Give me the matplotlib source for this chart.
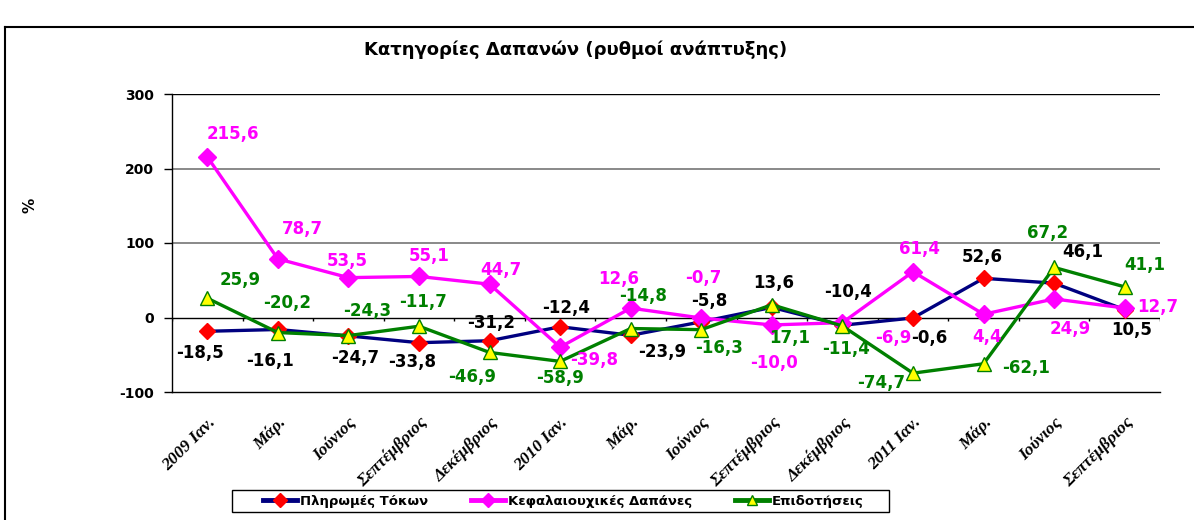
import numpy as np
import matplotlib
matplotlib.use("Agg")
import matplotlib.pyplot as plt
from matplotlib.lines import Line2D
from matplotlib.patches import Rectangle

# categories (quarters 2009-2011)
months = ["2009 Ιαν.", "Μάρ.", "Ιούνιος", "Σεπτέμβριος", "Δεκέμβριος",
          "2010 Ιαν.", "Μάρ.", "Ιούνιος", "Σεπτέμβριος", "Δεκέμβριος",
          "2011 Ιαν.", "Μάρ.", "Ιούνιος", "Σεπτέμβριος"]

tokoi = [-18.5, -16.1, -24.7, -33.8, -31.2, -12.4, -23.9, -5.8, 13.6, -10.4, -0.6, 52.6, 46.1, 10.5]
kefal = [215.6, 78.7, 53.5, 55.1, 44.7, -39.8, 12.6, -0.7, -10.0, -6.9, 61.4, 4.4, 24.9, 12.7]
epidot = [25.9, -20.2, -24.3, -11.7, -46.9, -58.9, -14.8, -16.3, 17.1, -11.4, -74.7, -62.1, 67.2, 41.1]

# label offsets in pixels (dx right, dy down) as placed on the original chart
off_tokoi = [(-7, 22), (-8, 32), (7, 22), (-7, 19), (2, -18), (6, -19), (31, 17),
             (8, -21), (2, -24), (6, -33), (16, 20), (-1, -21), (29, -31), (7, 20)]
off_kefal = [(26, -23), (25, -30), (-1, -17), (10, -20), (11, -14), (34, 13), (-12, -29),
             (2, -40), (2, 38), (51, 15), (7, -23), (3, 23), (16, 30), (33, -1)]
off_epidot = [(33, -18), (9, -30), (19, -25), (4, -24), (-17, 25), (0, 17), (12, -33),
              (18, 18), (18, 33), (4, 23), (-32, 10), (42, 4), (-7, -34), (20, -22)]

W, H = 1194, 520
fig = plt.figure(figsize=(W / 100, H / 100), dpi=100)
ax = fig.add_axes([172 / W, 1 - 392 / H, (1160 - 172) / W, (392 - 94) / H])

x = np.arange(len(months))

ax.plot(x, tokoi, color="#000080", lw=2.4, marker="D", ms=8,
        mfc="#FF0000", mec="#FF0000", label="Πληρωμές Τόκων", zorder=3)
ax.plot(x, kefal, color="#FF00FF", lw=2.4, marker="D", ms=9,
        mfc="#FF00FF", mec="#FF00FF", label="Κεφαλαιουχικές Δαπάνες", zorder=4)
ax.plot(x, epidot, color="#008000", lw=2.4, marker="^", ms=10,
        mfc="#FFFF00", mec="#008000", mew=1, label="Επιδοτήσεις", zorder=5)

def fmt(v):
    return f"{v:.1f}".replace(".", ",")

for vals, offs, col in [(tokoi, off_tokoi, "black"),
                        (kefal, off_kefal, "#FF00FF"),
                        (epidot, off_epidot, "#008000")]:
    for xi, v, (dx, dy) in zip(x, vals, offs):
        ax.annotate(fmt(v), (xi, v), xytext=(dx, -dy), textcoords="offset pixels",
                    ha="center", va="center", fontsize=12, fontweight="bold",
                    color=col, zorder=6)

ax.set_xlim(-0.5, len(months) - 0.5)
ax.set_ylim(-100, 300)
ax.set_yticks([-100, 0, 100, 200, 300])
ax.set_yticklabels(["-100", "0", "100", "200", "300"], fontsize=10, fontweight="bold")
ax.tick_params(axis="y", length=6, width=1, pad=7)

ax.set_xticks(x)
ax.set_xticklabels(months, rotation=45, ha="right", rotation_mode="anchor",
                   fontsize=12.5, fontweight="bold", fontstyle="italic",
                   family="Liberation Serif")
ax.tick_params(axis="x", length=0, pad=16)

for g in [100, 200]:
    ax.axhline(g, color="#808080", lw=1.3, zorder=1)
ax.axhline(300, color="black", lw=1.0, zorder=1)
ax.axhline(0, color="black", lw=1.0, zorder=2)
# tick marks between categories on the zero line
ax.vlines(np.arange(len(months) + 1) - 0.5, -5, 0, color="black", lw=1.0, zorder=2)

for s in ["top", "right"]:
    ax.spines[s].set_visible(False)
ax.spines["left"].set_linewidth(1.0)
ax.spines["bottom"].set_linewidth(1.0)

fig.text(30 / W, 1 - 205 / H, "%", rotation=90, ha="center", va="center",
         fontsize=11, fontweight="bold")
fig.text(576 / W, 1 - 50 / H, "Κατηγορίες Δαπανών (ρυθμοί ανάπτυξης)",
         ha="center", va="center", fontsize=13, fontweight="bold")

# outer chart frame (left and top edges visible)
fig.add_artist(Line2D([5 / W, 5 / W], [0, 1 - 27 / H], color="black", lw=1.5,
                      transform=fig.transFigure))
fig.add_artist(Line2D([5 / W, 1], [1 - 27 / H, 1 - 27 / H], color="black", lw=1.5,
                      transform=fig.transFigure))

# legend box drawn separately, entries spread inside it
fig.add_artist(Rectangle((232 / W, 1 - 512 / H), (889 - 232) / W, 22 / H,
                         transform=fig.transFigure, fill=False, edgecolor="black", lw=1.0))
leg = ax.legend(loc="center", bbox_to_anchor=(260 / W, 1 - 512 / H, (866 - 260) / W, 22 / H),
                bbox_transform=fig.transFigure, mode="expand", ncol=3, frameon=False,
                handlelength=2.6, handletextpad=0.2,
                borderpad=0.2, prop={"size": 9.5, "weight": "bold"}, borderaxespad=0)
for h in leg.get_lines():
    h.set_linewidth(3.5)
    h.set_markersize(7)

fig.savefig("out.png", dpi=100)
